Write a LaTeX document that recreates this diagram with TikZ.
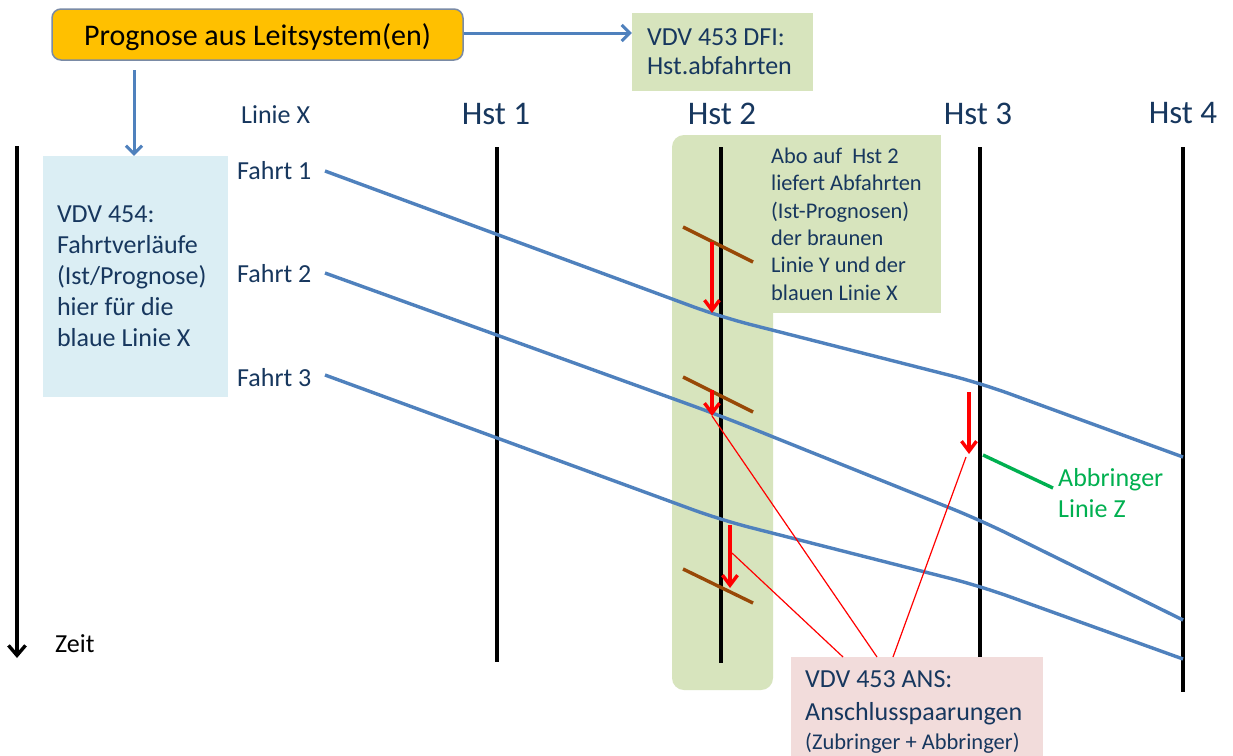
\documentclass[tikz,border=0pt]{standalone}
\usepackage{fontspec}
\setmainfont{Carlito}
\usetikzlibrary{arrows.meta}
\definecolor{navy}{HTML}{17375E}
\definecolor{olivebox}{HTML}{D7E4BD}
\definecolor{aquabox}{HTML}{DBEEF4}
\definecolor{rosebox}{HTML}{F2DCDB}
\definecolor{gold}{HTML}{FFC000}
\definecolor{goldrand}{HTML}{7A8BA6}
\definecolor{fahrtblue}{HTML}{4F81BD}
\definecolor{braun}{HTML}{984807}
\definecolor{gruen}{HTML}{00B050}
\newcommand{\fs}[2]{\fontsize{#1}{#2}\selectfont}
\begin{document}
\begin{tikzpicture}[x=1pt, y=-1pt,
    txt/.style={text=navy, inner sep=0pt, font=\fs{26}{31}},
    hst/.style={text=navy, inner sep=0pt, anchor=base, font=\fs{33}{40}},
    station/.style={line width=3.4pt},
    fahrt/.style={fahrtblue, line width=3.4pt, rounded corners=30pt},
    tick/.style={braun, line width=3.4pt},
    delay/.style={red, line width=3.4pt, -{Straight Barb[length=10pt, width=15pt]}},
    link/.style={red, line width=1.2pt},
    flow/.style={fahrtblue, line width=3pt, -{Straight Barb[length=8pt, width=16pt]}}]
    \useasboundingbox[fill=white] (0,0) rectangle (1233,755);
    \fill[olivebox, rounded corners=12pt] (672,135) rectangle (773,690);
    \fill[olivebox] (700,135) rectangle (941,313);
    \node[fill=gold, draw=goldrand, line width=1.5pt, rounded corners=9pt, minimum width=411pt, minimum height=51pt, inner sep=0pt, text height=24pt, text depth=3pt, font=\fs{30}{36}] (prog) at (257.5,34.5) {Prognose aus Leitsystem(en)};
    \node[txt, fill=olivebox, minimum width=181pt, minimum height=78pt, text width=151pt, inner xsep=15pt, align=flush left, font=\fs{26}{29}] (dfi) at (722.5,52) {VDV 453 DFI:\\Hst.abfahrten};
    \node[txt, fill=aquabox, minimum width=185pt, minimum height=241pt, text width=157pt, inner xsep=14pt, align=flush left] (vdv454) at (135.5,276.5) {VDV 454:\\Fahrtverläufe\\(Ist/Prognose)\\hier für die\\blaue Linie X};
    \node[txt, anchor=north west, minimum height=178pt, text width=164pt, inner xsep=6pt, align=flush left, font=\fs{22.4}{27.3}] (abo) at (765,135) {Abo auf\ \ Hst 2\\liefert Abfahrten\\(Ist-Prognosen)\\der braunen\\Linie Y und der\\blauen Linie X};
    \draw[flow] (prog.east |- 0,33) coordinate (pr) -- (pr -| dfi.west);
    \coordinate (pd) at (134,70);
    \draw[flow] (pd) -- (pd |- vdv454.north);
    \node[txt, anchor=base west] (linie) at (241,123) {Linie X};
    \node[txt, anchor=base west] (fahrt1) at (237,179) {Fahrt 1};
    \node[txt, anchor=base west] (fahrt2) at (237,282) {Fahrt 2};
    \node[txt, anchor=base west] (fahrt3) at (237,386) {Fahrt 3};
    \node[txt, anchor=base west, text=black] (zeit) at (55,652) {Zeit};
    \node[hst] (hst1) at (496,124) {Hst 1};
    \node[hst] (hst2) at (722,124) {Hst 2};
    \node[hst] (hst3) at (978,124) {Hst 3};
    \node[hst] (hst4) at (1183,123) {Hst 4};
    \coordinate (zeitoben) at (17,146);
    \draw[station, -{Straight Barb[length=10pt, width=17pt]}] (zeitoben) -- (zeitoben |- 0,658);
    \draw[station] (497,147) coordinate (s1) -- (s1 |- 0,662);
    \draw[station] (721,147) coordinate (s2) -- (s2 |- 0,663);
    \draw[station] (980,147) coordinate (s3) -- (s3 |- 0,660);
    \draw[station] (1183,147) coordinate (s4) -- (s4 |- 0,692);
    \draw[tick] (683,227) -- (753,262);
    \draw[tick] (683,377) -- (753,412);
    \draw[tick] (683,569) -- (753,603);
    \draw[fahrt] (325,171) -- (721,317) -- (980,383) -- (1183,457);
    \draw[fahrt] (325,273) -- (721,416) -- (980,520) -- (1183,620);
    \draw[fahrt] (325,375) -- (721,520) -- (980,586) -- (1183,659);
    \draw[delay] (712,242) -- (712,313);
    \draw[delay] (712,390) coordinate (d2) -- (712,416) coordinate (d2e);
    \draw[delay] (730,525) coordinate (d3) -- (730,588);
    \draw[delay] (969,392) -- (969,454) coordinate (d4e);
    \draw[gruen, line width=3.4pt] (983,455) -- (1053,488);
    \node[txt, anchor=base west, text=gruen, align=flush left] (abbr) at (1058,517) {Abbringer\\Linie Z};
    \node[txt, fill=rosebox, anchor=north west, minimum width=252pt, minimum height=110pt, text width=224pt, inner xsep=14pt, align=flush left, font=\fs{26}{33}] (ans) at (791,657) {VDV 453 ANS:\\Anschlusspaarungen\\[-4pt]{\fs{22.5}{27}(Zubringer + Abbringer)}};
    \draw[link] (ans.north west) ++(52,0) coordinate (l1) -- (732,553);
    \draw[link] (ans.north west) ++(86,0) coordinate (l2) -- (d2e);
    \draw[link] (ans.north west) ++(102,0) coordinate (l3) -- (966,457);
\end{tikzpicture}
\end{document}
